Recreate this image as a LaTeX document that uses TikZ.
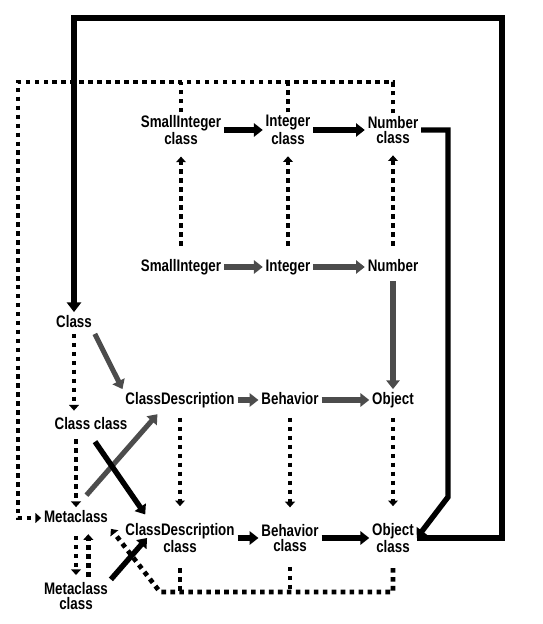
\documentclass[tikz,border=0pt]{standalone}
\usepackage{fontspec}
\newfontfamily\lblfont[FakeStretch=0.8]{Liberation Sans}
\usepackage{tikz}
\usetikzlibrary{calc, positioning, arrows.meta}

\begin{document}
\begin{tikzpicture}[
  % pixel grid of the page, y going down
  x=0.02cm, y=-0.02cm,
  font=\lblfont\bfseries\fontsize{9.5}{8.5}\selectfont,
  every node/.style={inner sep=1.5pt, align=center},
  one/.style={text height=7pt, text depth=2pt},
  sub/.style={line width=3.1pt, -{Triangle[length=5pt,width=7.5pt]}},
  subg/.style={sub, line width=2.9pt, draw=black!70},
  inst/.style={line width=2.7pt, dash pattern=on 2.6pt off 2.5pt, -{Triangle[length=3.2pt,width=5.5pt]}},
  instl/.style={inst, -},
  frame/.style={line width=3.5pt, -{Triangle[length=5.5pt,width=8pt]}}
]
  \useasboundingbox (0,0) rectangle (542,624);

  % metaclasses of the number classes
  \node (sicls) at (181,130) {SmallInteger\\class};
  \node (icls)  at (288,130) {Integer\\class};
  \node (ncls)  at (393,130) {Number\\class};

  % number classes
  \node[one] (si)  at (181,267) {SmallInteger};
  \node[one] (int) at (288,267) {Integer};
  \node[one] (num) at (393,267) {Number};

  % kernel classes
  \node[one] (cls)    at (74,323)  {Class};
  \node[one] (cdesc)  at (180,400) {ClassDescription};
  \node[one] (beh)    at (290,400) {Behavior};
  \node[one] (obj)    at (393,400) {Object};
  \node[one] (clscls) at (91,425)  {Class class};
  \node[one] (meta)   at (76,518)  {Metaclass};

  % metaclasses of the kernel classes
  \node (cdesccls) at (180,538) {ClassDescription\\class};
  \node (behcls)   at (290,538) {Behavior\\class};
  \node (objcls)   at (393,538) {Object\\class};
  \node (metacls)  at (76,596)  {Metaclass\\class};

  % corners of the long connectors
  \coordinate (dtl) at (18,82);
  \coordinate (dbl) at (160,592);
  \coordinate (ftr) at (502,18);
  \coordinate (nbend) at (448,497);

  % instance-of links (dotted)
  \draw[inst, shorten <=6pt, shorten >=5pt] (si.north) -- (sicls.south);
  \draw[inst, shorten <=6pt, shorten >=5pt] (int.north) -- (icls.south);
  \draw[inst, shorten <=6pt, shorten >=5pt] (num.north) -- (ncls.south);
  \draw[inst, shorten >=2pt] (cls.south) -- (cls.south |- clscls.north);
  \draw[inst, shorten <=2pt] (clscls.south -| meta.north) -- (meta.north);
  \draw[inst, shorten <=4pt, shorten >=8pt] (cdesc.south) -- (cdesccls.north);
  \draw[inst, shorten <=4pt, shorten >=8pt] (beh.south) -- (behcls.north);
  \draw[inst, shorten <=4pt, shorten >=8pt] (obj.south) -- (objcls.north);
  \draw[inst, shorten <=4pt, shorten >=2.5pt] (meta.south) -- (metacls.north);
  \draw[inst, shorten <=1.5pt, shorten >=3pt] ([xshift=7pt]metacls.north) -- ([xshift=7pt]meta.south);

  % metaclasses of the top row are instances of Metaclass
  \draw[instl] (sicls.north) -- (sicls.north |- dtl);
  \draw[instl] (icls.north) -- (icls.north |- dtl);
  \draw[inst] (ncls.north) |- (dtl) |- (meta.west);

  % metaclasses of the bottom row too
  \draw[instl, shorten <=7pt] (cdesccls.south) -- (cdesccls.south |- dbl);
  \draw[instl, shorten <=7pt] (behcls.south) -- (behcls.south |- dbl);
  \draw[inst, shorten <=7pt] (objcls.south) |- (dbl) -- (meta.south east);

  % subclass links
  \draw[sub] (sicls) -- (icls);
  \draw[sub] (icls) -- (ncls);
  \draw[subg] (si) -- (int);
  \draw[subg] (int) -- (num);
  \draw[subg, shorten <=2pt] (num) -- (obj);
  \draw[subg] (cls.south east) -- (cdesc.north west);
  \draw[subg] (cdesc) -- (beh);
  \draw[subg] (beh) -- (obj);
  \draw[subg, shorten <=9pt, shorten >=2.5pt] (meta.north) -- (cdesc.-151);
  \draw[sub, shorten <=4pt, shorten >=4pt] (clscls.south) -- (cdesccls.150);
  \draw[sub] (metacls.north east) -- ([xshift=14pt]cdesccls.west);
  \draw[sub] (cdesccls) -- (behcls);
  \draw[sub] (behcls) -- (objcls);
  \draw[sub] (ncls.east) -| (nbend) -- (objcls.east);

  % Object class is an instance of Class
  \draw[frame] (objcls.east) -| (ftr) -| (cls.north);
\end{tikzpicture}
\end{document}
